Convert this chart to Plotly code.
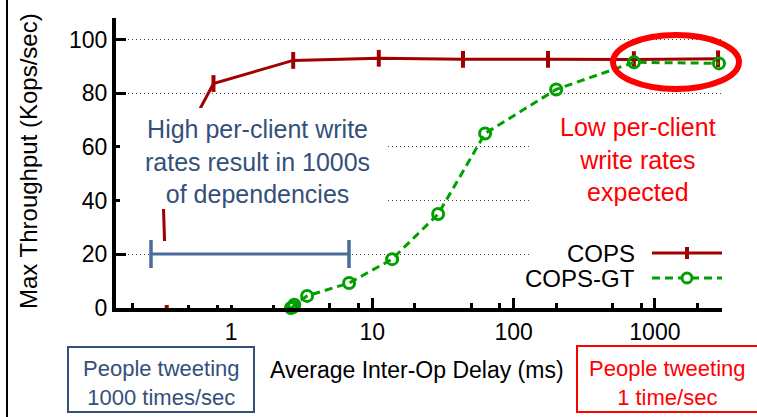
import plotly.graph_objects as go

# ---- data ----
cops_delay = [0.35, 0.327, 0.75, 2.75, 11.1, 43.8, 175, 710, 2800]
cops_tput = [0, 48, 83.6, 92.2, 93.0, 92.6, 92.6, 92.5, 92.8]
gt_delay = [2.65, 2.75, 2.8, 3.45, 6.84, 13.8, 29.2, 62.8, 200, 711, 2843]
gt_tput = [0, 0.4, 1.2, 4.5, 9.3, 18.2, 35, 65, 81.4, 91.5, 91.1]
x_major = [1, 10, 100, 1000]
x_major_labels = ["1", "10", "100", "1000"]
x_minor = [0.2, 0.5, 0.8, 2, 5, 8, 20, 50, 80, 200, 500, 800, 2000]
y_ticks = [0, 20, 40, 60, 80, 100]

FONT = "Liberation Sans, Arial, Helvetica, sans-serif"
RED = "#a00000"
GREEN = "#00a000"
BLUE = "#34507a"
BAR = "#4a6c9b"

W, H = 757, 417
L, R, T, B = 116, 722, 18, 308


def px(x):
    return (x - L) / (R - L)


def py(y):
    return (B - y) / (B - T)


fig = go.Figure()
fig.add_trace(go.Scatter(
    x=cops_delay, y=cops_tput, mode="lines+markers", name="COPS",
    line=dict(color=RED, width=3),
    marker=dict(symbol="line-ns", size=12, line=dict(color=RED, width=4)),
    cliponaxis=True, showlegend=False))
fig.add_trace(go.Scatter(
    x=gt_delay, y=gt_tput, mode="lines+markers", name="COPS-GT",
    line=dict(color=GREEN, width=3, dash="8px,5px"),
    marker=dict(symbol="circle-open", size=11, color=GREEN, line=dict(color=GREEN, width=3)),
    cliponaxis=False, showlegend=False))

shapes = []
# white cover boxes (presentation overlays)
for x0, x1, y0, y1 in [(120, 388, 108, 209), (153, 347, 241, 270), (153, 281, 241, 305),
                       (532, 726, 108, 292)]:
    shapes.append(dict(type="rect", xref="paper", yref="paper", x0=px(x0), x1=px(x1),
                       y0=py(y1), y1=py(y0), fillcolor="white", line=dict(width=0), layer="above"))
# error-bar style range marker
shapes.append(dict(type="line", xref="paper", yref="paper", x0=px(151), x1=px(349), y0=py(254), y1=py(254),
                   line=dict(color=BAR, width=3), layer="above"))
for xc in (151, 349):
    shapes.append(dict(type="line", xref="paper", yref="paper", x0=px(xc), x1=px(xc), y0=py(240), y1=py(268),
                       line=dict(color=BAR, width=3.5), layer="above"))
# legend samples
shapes.append(dict(type="line", xref="paper", yref="paper", x0=px(652), x1=px(722), y0=py(253), y1=py(253),
                   line=dict(color=RED, width=3), layer="above"))
shapes.append(dict(type="line", xref="paper", yref="paper", x0=px(687), x1=px(687), y0=py(247), y1=py(259),
                   line=dict(color=RED, width=4), layer="above"))
shapes.append(dict(type="line", xref="paper", yref="paper", x0=px(652), x1=px(722), y0=py(278), y1=py(278),
                   line=dict(color=GREEN, width=3, dash="8px,5px"), layer="above"))
shapes.append(dict(type="circle", xref="paper", yref="paper", x0=px(682), x1=px(692), y0=py(283), y1=py(273),
                   fillcolor="white", line=dict(color=GREEN, width=3), layer="above"))
# red ellipse highlight
shapes.append(dict(type="circle", xref="paper", yref="paper", x0=px(613), x1=px(739), y0=py(89), y1=py(35),
                   line=dict(color="#ff0000", width=6), layer="above"))
# bottom boxes
shapes.append(dict(type="rect", xref="paper", yref="paper", x0=px(68), x1=px(254), y0=py(412), y1=py(347),
                   line=dict(color=BLUE, width=2), layer="above"))
shapes.append(dict(type="rect", xref="paper", yref="paper", x0=px(577), x1=px(790), y0=py(412), y1=py(346),
                   line=dict(color="#ff0000", width=2), layer="above"))
# slide border line at far left
shapes.append(dict(type="line", xref="paper", yref="paper", x0=px(7), x1=px(7), y0=py(0), y1=py(417),
                   line=dict(color="black", width=2), layer="above"))

ann = []


def text(x, y, s, size=24, color="black", xanchor="center", angle=0):
    ann.append(dict(x=px(x), y=py(y), xref="paper", yref="paper", text=s, showarrow=False,
                    xanchor=xanchor, yanchor="middle", textangle=angle,
                    font=dict(family=FONT, size=size, color=color)))


text(257, 161, "High per-client write<br>rates result in 1000s<br>of dependencies", 25, BLUE)
text(638, 159, "Low per-client<br>write rates<br>expected", 25, "#ff0000")
text(637, 253, "COPS", 24, "black", "right")
text(637, 278, "COPS-GT", 24, "black", "right")
text(417, 370, "Average Inter-Op Delay (ms)", 23)
text(28, 161, "Max Throughput (Kops/sec)", 24, angle=-90)
text(161, 383, "People tweeting<br>1000 times/sec", 22, BLUE)
text(667, 383, "People tweeting<br>1 time/sec", 22, "#ff0000")

fig.update_layout(
    width=W, height=H, margin=dict(l=L, r=W - R, t=T, b=H - B),
    paper_bgcolor="white", plot_bgcolor="white",
    font=dict(family=FONT, size=23, color="black"),
    shapes=shapes, annotations=ann,
    xaxis=dict(type="log", range=[-0.815, 3.475], tickvals=x_major, ticktext=x_major_labels,
               ticks="inside", ticklen=10, tickwidth=2.5, tickcolor="black",
               showline=True, linewidth=4, linecolor="black", showgrid=False, zeroline=False,
               tickfont=dict(size=23),
               minor=dict(tickvals=x_minor, ticks="inside", ticklen=5, tickwidth=2.5, tickcolor="black", showgrid=False)),
    yaxis=dict(range=[0, 108], tickvals=y_ticks, ticks="inside", ticklen=10, tickwidth=2.5, tickcolor="black",
               showline=True, linewidth=4, linecolor="black", zeroline=False,
               showgrid=True, gridcolor="#444", gridwidth=1, griddash="1px,3px",
               tickfont=dict(size=23)),
)

fig.write_html("out.html", config={"displayModeBar": False},
               post_script="document.body.style.margin='0';document.body.style.overflow='hidden';")
